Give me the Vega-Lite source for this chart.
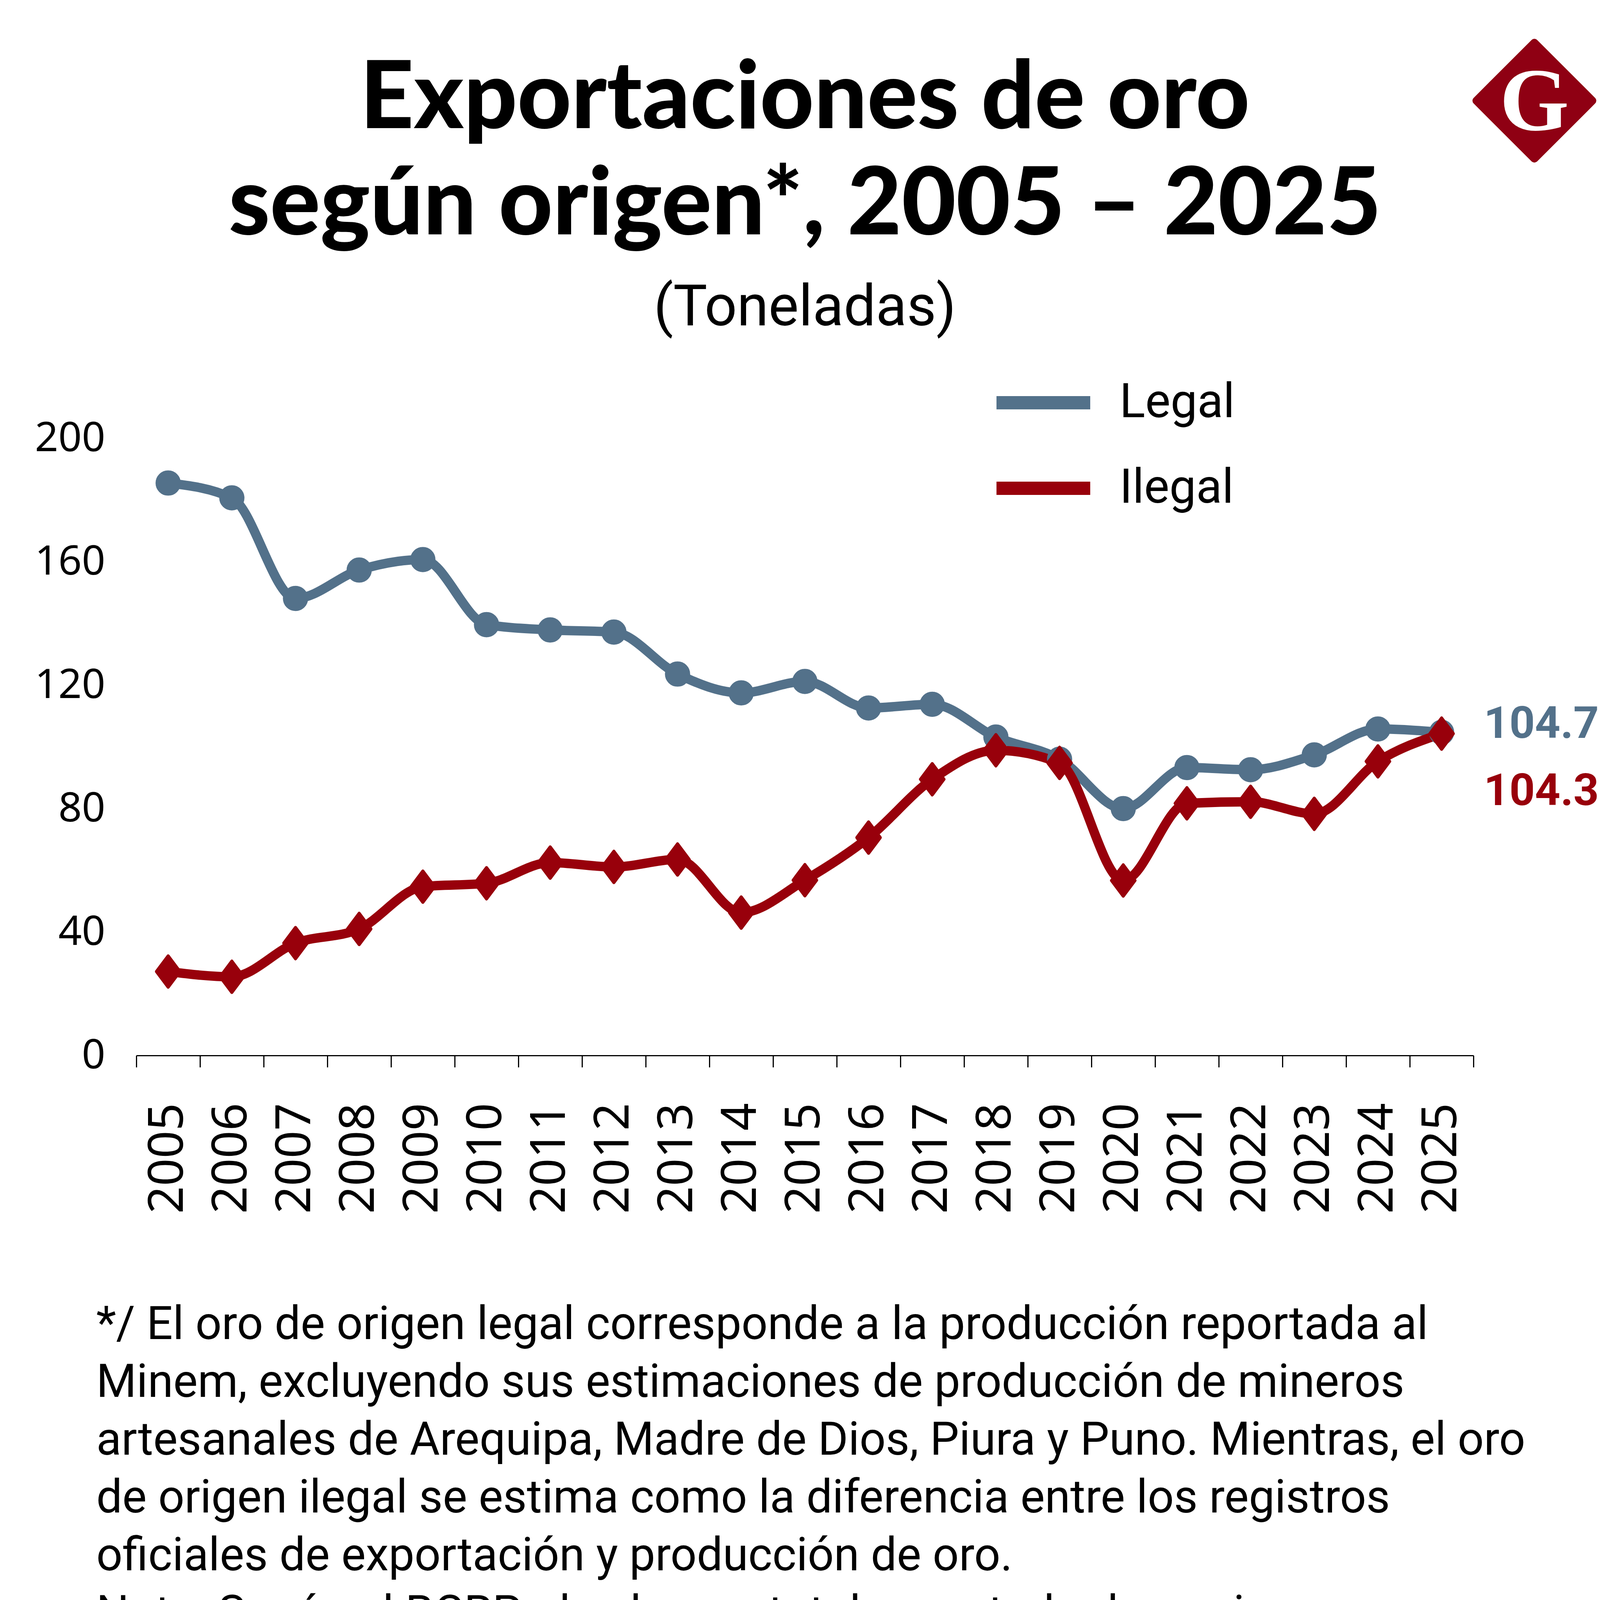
{
  "$schema": "https://vega.github.io/schema/vega-lite/v6.json",
  "background": "white",
  "autosize": {"type": "none"},
  "padding": {"left": 349, "top": 1122, "right": 378, "bottom": 2260},
  "width": 3423,
  "height": 1580,
  "config": {
    "view": {"stroke": null},
    "axis": {"maxExtent": 2000}
  },
  "data": {
    "values": [
      {"anio": "2005", "serie": "Legal", "toneladas": 185.5},
      {"anio": "2006", "serie": "Legal", "toneladas": 180.7},
      {"anio": "2007", "serie": "Legal", "toneladas": 148.1},
      {"anio": "2008", "serie": "Legal", "toneladas": 157.3},
      {"anio": "2009", "serie": "Legal", "toneladas": 160.7},
      {"anio": "2010", "serie": "Legal", "toneladas": 139.6},
      {"anio": "2011", "serie": "Legal", "toneladas": 137.9},
      {"anio": "2012", "serie": "Legal", "toneladas": 137.2},
      {"anio": "2013", "serie": "Legal", "toneladas": 123.6},
      {"anio": "2014", "serie": "Legal", "toneladas": 117.5},
      {"anio": "2015", "serie": "Legal", "toneladas": 121.2},
      {"anio": "2016", "serie": "Legal", "toneladas": 112.6},
      {"anio": "2017", "serie": "Legal", "toneladas": 113.8},
      {"anio": "2018", "serie": "Legal", "toneladas": 103.2},
      {"anio": "2019", "serie": "Legal", "toneladas": 96.0},
      {"anio": "2020", "serie": "Legal", "toneladas": 80.0},
      {"anio": "2021", "serie": "Legal", "toneladas": 93.3},
      {"anio": "2022", "serie": "Legal", "toneladas": 92.6},
      {"anio": "2023", "serie": "Legal", "toneladas": 97.4},
      {"anio": "2024", "serie": "Legal", "toneladas": 105.8},
      {"anio": "2025", "serie": "Legal", "toneladas": 104.7},
      {"anio": "2005", "serie": "Ilegal", "toneladas": 27.2},
      {"anio": "2006", "serie": "Ilegal", "toneladas": 25.5},
      {"anio": "2007", "serie": "Ilegal", "toneladas": 36.4},
      {"anio": "2008", "serie": "Ilegal", "toneladas": 41.0},
      {"anio": "2009", "serie": "Ilegal", "toneladas": 54.7},
      {"anio": "2010", "serie": "Ilegal", "toneladas": 55.8},
      {"anio": "2011", "serie": "Ilegal", "toneladas": 62.5},
      {"anio": "2012", "serie": "Ilegal", "toneladas": 61.1},
      {"anio": "2013", "serie": "Ilegal", "toneladas": 63.5},
      {"anio": "2014", "serie": "Ilegal", "toneladas": 46.3},
      {"anio": "2015", "serie": "Ilegal", "toneladas": 56.8},
      {"anio": "2016", "serie": "Ilegal", "toneladas": 70.6},
      {"anio": "2017", "serie": "Ilegal", "toneladas": 89.5},
      {"anio": "2018", "serie": "Ilegal", "toneladas": 98.9},
      {"anio": "2019", "serie": "Ilegal", "toneladas": 94.8},
      {"anio": "2020", "serie": "Ilegal", "toneladas": 56.7},
      {"anio": "2021", "serie": "Ilegal", "toneladas": 81.7},
      {"anio": "2022", "serie": "Ilegal", "toneladas": 82.2},
      {"anio": "2023", "serie": "Ilegal", "toneladas": 78.3},
      {"anio": "2024", "serie": "Ilegal", "toneladas": 95.3},
      {"anio": "2025", "serie": "Ilegal", "toneladas": 104.3}
    ]
  },
  "title": {
    "text": ["Exportaciones de oro", "según origen*, 2005 – 2025"],
    "subtitle": "(Toneladas)",
    "frame": "group",
    "anchor": "middle",
    "font": "Lato",
    "fontWeight": 900,
    "fontSize": 240,
    "lineHeight": 272,
    "color": "black",
    "subtitleFont": "Roboto",
    "subtitleFontSize": 146,
    "subtitleColor": "black",
    "subtitlePadding": 68,
    "offset": -765
  },
  "resolve": {"scale": {"x": "independent"}},
  "layer": [
    {
      "mark": {"type": "line", "interpolate": "monotone", "strokeWidth": 24, "strokeCap": "round", "strokeJoin": "round"},
      "encoding": {
        "x": {
          "field": "anio",
          "type": "ordinal",
          "scale": {"type": "band", "paddingInner": 0, "paddingOuter": 0},
          "axis": {
            "title": [
              "*/ El oro de origen legal corresponde a la producción reportada al",
              "Minem, excluyendo sus estimaciones de producción de mineros",
              "artesanales de Arequipa, Madre de Dios, Piura y Puno. Mientras, el oro",
              "de origen ilegal se estima como la diferencia entre los registros",
              "oficiales de exportación y producción de oro.",
              "Nota: Según el BCRP, el volumen total exportado de oro incorpora",
              "estimaciones de envíos no registrados por Aduanas.",
              "",
              "",
              "FUENTE: MINEM, BCRP, Cálculos IPE."
            ],
            "titleFont": "Roboto",
            "titleFontSize": 118,
            "titleFontWeight": "normal",
            "titleColor": "black",
            "titleAnchor": "start",
            "titleAlign": "left",
            "titleBaseline": "top",
            "titleLineHeight": 148,
            "titleX": -103,
            "titleY": 632,
            "labelAngle": -90,
            "labelFont": "Noto Sans",
            "labelFontSize": 124,
            "labelColor": "black",
            "labelPadding": 91,
            "labelLimit": 0,
            "labelOverlap": false,
            "tickSize": 30,
            "tickWidth": 3,
            "tickColor": "black",
            "tickBand": "extent",
            "domainColor": "black",
            "domainWidth": 3,
            "grid": false
          }
        },
        "y": {
          "field": "toneladas",
          "type": "quantitative",
          "scale": {"domain": [0, 200], "nice": false},
          "axis": {
            "title": null,
            "values": [0, 40, 80, 120, 160, 200],
            "labelFont": "Noto Sans",
            "labelFontSize": 105,
            "labelColor": "black",
            "labelPadding": 80,
            "labelLimit": 0,
            "ticks": false,
            "domain": false,
            "grid": false
          }
        },
        "color": {
          "field": "serie",
          "type": "nominal",
          "scale": {"domain": ["Legal", "Ilegal"], "range": ["#53718A", "#98000B"]},
          "legend": {
            "title": null,
            "orient": "none",
            "legendX": 2185,
            "legendY": -228,
            "direction": "vertical",
            "padding": 0,
            "symbolType": "stroke",
            "symbolSize": 57600,
            "symbolStrokeWidth": 34,
            "labelFont": "Roboto",
            "labelFontSize": 122,
            "labelColor": "black",
            "labelOffset": 58,
            "labelLimit": 0,
            "rowPadding": 14
          }
        }
      }
    },
    {
      "transform": [{"filter": "datum.serie == 'Legal'"}],
      "mark": {"type": "point", "shape": "circle", "filled": true, "opacity": 1, "size": 3200, "color": "#53718A", "stroke": "#53718A", "strokeWidth": 8},
      "encoding": {
        "x": {"field": "anio", "type": "ordinal", "scale": {"type": "band", "paddingInner": 0, "paddingOuter": 0}, "axis": null},
        "y": {"field": "toneladas", "type": "quantitative"}
      }
    },
    {
      "transform": [{"filter": "datum.serie == 'Ilegal'"}],
      "mark": {"type": "point", "shape": "M0,-1L0.75,0L0,1L-0.75,0Z", "filled": true, "opacity": 1, "size": 6400, "color": "#98000B", "stroke": "#98000B", "strokeWidth": 8, "strokeJoin": "round"},
      "encoding": {
        "x": {"field": "anio", "type": "ordinal", "scale": {"type": "band", "paddingInner": 0, "paddingOuter": 0}, "axis": null},
        "y": {"field": "toneladas", "type": "quantitative"}
      }
    },
    {
      "transform": [{"filter": "datum.anio == '2025' && datum.serie == 'Legal'"}],
      "mark": {"type": "text", "align": "left", "baseline": "middle", "dx": 108, "dy": -20, "font": "Roboto", "fontWeight": "bold", "fontSize": 114, "color": "#53718A"},
      "encoding": {
        "x": {"field": "anio", "type": "ordinal", "scale": {"type": "band", "paddingInner": 0, "paddingOuter": 0, "domain": ["2005", "2006", "2007", "2008", "2009", "2010", "2011", "2012", "2013", "2014", "2015", "2016", "2017", "2018", "2019", "2020", "2021", "2022", "2023", "2024", "2025"]}, "axis": null},
        "y": {"field": "toneladas", "type": "quantitative"},
        "text": {"field": "toneladas", "type": "quantitative", "format": ".1f"}
      }
    },
    {
      "transform": [{"filter": "datum.anio == '2025' && datum.serie == 'Ilegal'"}],
      "mark": {"type": "text", "align": "left", "baseline": "middle", "dx": 108, "dy": 149, "font": "Roboto", "fontWeight": "bold", "fontSize": 114, "color": "#98000B"},
      "encoding": {
        "x": {"field": "anio", "type": "ordinal", "scale": {"type": "band", "paddingInner": 0, "paddingOuter": 0, "domain": ["2005", "2006", "2007", "2008", "2009", "2010", "2011", "2012", "2013", "2014", "2015", "2016", "2017", "2018", "2019", "2020", "2021", "2022", "2023", "2024", "2025"]}, "axis": null},
        "y": {"field": "toneladas", "type": "quantitative"},
        "text": {"field": "toneladas", "type": "quantitative", "format": ".1f"}
      }
    },
    {
      "data": {"values": [{"marca": "G"}]},
      "mark": {"type": "point", "shape": "diamond", "filled": true, "opacity": 1, "size": 88209, "color": "#8F0013", "stroke": "#8F0013", "strokeWidth": 20, "strokeJoin": "round"},
      "encoding": {
        "x": {"datum": 0, "scale": {"type": "linear", "domain": [0, 1], "range": [3579, 4606]}, "axis": null},
        "y": {"datum": 309.4}
      }
    },
    {
      "data": {"values": [{"marca": "G"}]},
      "mark": {"type": "text", "align": "center", "baseline": "middle", "dy": 7, "font": "Liberation Serif", "fontWeight": "bold", "fontSize": 228, "color": "white"},
      "encoding": {
        "x": {"datum": 0, "scale": {"type": "linear", "domain": [0, 1], "range": [3579, 4606]}, "axis": null},
        "y": {"datum": 309.4},
        "text": {"field": "marca"}
      }
    },
    {
      "data": {"values": [{"separador": 0}]},
      "mark": {"type": "rule", "color": "#c6c6c6", "strokeWidth": 3},
      "encoding": {
        "x": {"datum": 0, "scale": {"type": "linear", "domain": [0, 1], "range": [-333, 3792]}, "axis": null},
        "x2": {"datum": 1},
        "y": {"datum": -225.1}
      }
    }
  ]
}
